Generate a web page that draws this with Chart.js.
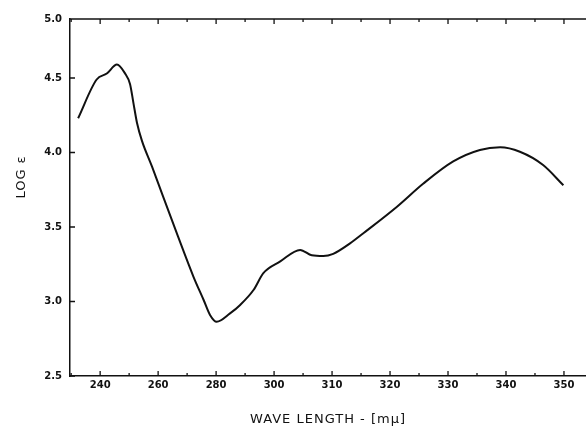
<!DOCTYPE html>
<html>
<head>
<meta charset="utf-8">
<script src="https://cdn.jsdelivr.net/npm/chart.js@4/dist/chart.umd.min.js"></script>
<style>
  html, body { margin: 0; padding: 0; background: #fff; }
  #wrap { width: 586px; height: 427px; }
</style>
</head>
<body>
<div id="wrap"><canvas id="myChart" width="586" height="427"></canvas></div>
<script>
// wavelength (m\u03bc, as printed on the axis) and log epsilon
const wavelengths = [232.4, 238.8, 242.3, 245.8, 248.6, 250.3, 251.5, 252.7, 254.4, 257.9, 261.6,
    266.4, 272.2, 275.7, 277.9, 280.2, 284.8, 288.3, 292.9, 296.3, 301, 304.5, 306.5, 308.5, 310.2,
    313.1, 315.4, 321.2, 325.7, 330.9, 335.5, 339, 342.4, 346.4, 349.9];
const logE = [4.23, 4.49, 4.53, 4.59, 4.53, 4.46, 4.33, 4.2, 4.08, 3.905, 3.71,
    3.46, 3.166, 3.01, 2.91, 2.864, 2.92, 2.977, 3.077, 3.19, 3.267, 3.346, 3.31, 3.305, 3.32,
    3.39, 3.458, 3.636, 3.79, 3.94, 4.017, 4.035, 4.005, 3.916, 3.78];

// the printed x axis is compressed below 300 (20 m\u03bc per division) and 10 m\u03bc per division above
const x_tick_labels = ['240', '260', '280', '300', '310', '320', '330', '340', '350'];
const y_tick_labels = ['2.5', '3.0', '3.5', '4.0', '4.5', '5.0'];
const y_tick_values = [2.5, 3.0, 3.5, 4.0, 4.5];

const X_MIN = 264.8, X_MAX = 353.8;
const Y_MIN = 2.5, Y_MAX = 4.896;

function to_axis(wl) {
    return wl <= 300 ? 300 - (300 - wl) / 2 : wl;
}

const x_tick_positions = x_tick_labels.map(l => to_axis(Number(l)));
const points = wavelengths.map((wl, i) => ({ x: to_axis(wl), y: logE[i] }));

// inward tick marks, frame top line and the two axis titles
const frame_plugin = {
    id: 'frame',
    afterDraw(chart) {
        const ctx = chart.ctx;
        const area = chart.chartArea;
        const xs = chart.scales.x;
        const ys = chart.scales.y;
        ctx.save();
        ctx.strokeStyle = '#111';
        ctx.lineWidth = 1.5;
        ctx.beginPath();
        ctx.moveTo(area.left, area.top);
        ctx.lineTo(area.right, area.top);
        ctx.stroke();

        ctx.lineWidth = 1.3;
        ctx.beginPath();
        for (let p = 265; p <= X_MAX; p += 5) {
            const px = xs.getPixelForValue(p);
            const len = p % 10 === 0 ? 5 : 3;
            ctx.moveTo(px, area.bottom);
            ctx.lineTo(px, area.bottom - len);
            ctx.moveTo(px, area.top);
            ctx.lineTo(px, area.top + len);
        }
        y_tick_values.forEach(v => {
            const py = ys.getPixelForValue(v);
            ctx.moveTo(area.left, py);
            ctx.lineTo(area.left + 5, py);
        });
        ctx.stroke();

        ctx.fillStyle = '#111';
        ctx.textAlign = 'center';
        ctx.textBaseline = 'middle';
        ctx.font = '13px "DejaVu Sans"';
        ctx.letterSpacing = '1px';
        ctx.fillText('WAVE LENGTH - [m\u03bc]', (area.left + area.right) / 2, 420);
        ctx.translate(22, 177);
        ctx.rotate(-Math.PI / 2);
        ctx.fillText('LOG \u03b5', 0, 0);
        ctx.restore();
    }
};

const ctx = document.getElementById('myChart').getContext('2d');
new Chart(ctx, {
    type: 'scatter',
    data: {
        datasets: [{
            label: 'log \u03b5',
            data: points,
            showLine: true,
            borderColor: '#111',
            borderWidth: 2,
            pointRadius: 0,
            cubicInterpolationMode: 'monotone',
            fill: false
        }]
    },
    options: {
        animation: false,
        responsive: false,
        layout: { padding: { top: 19, right: 0, left: 0, bottom: 0 } },
        plugins: { legend: { display: false }, tooltip: { enabled: false } },
        scales: {
            x: {
                type: 'linear',
                min: X_MIN,
                max: X_MAX,
                afterFit: s => { s.height = 51; },
                afterBuildTicks: s => { s.ticks = x_tick_positions.map(v => ({ value: v })); },
                grid: { display: true, drawOnChartArea: false, drawTicks: false },
                border: { display: true, color: '#111', width: 1.5 },
                ticks: {
                    padding: 3,
                    maxRotation: 0,
                    autoSkip: false,
                    color: '#111',
                    font: { family: 'DejaVu Sans', size: 10, weight: 'bold' },
                    callback: (v, i) => x_tick_labels[i]
                }
            },
            y: {
                min: Y_MIN,
                max: Y_MAX,
                afterFit: s => { s.width = 70; },
                afterBuildTicks: s => { s.ticks = y_tick_values.concat([Y_MAX]).map(v => ({ value: v })); },
                grid: { display: true, drawOnChartArea: false, drawTicks: false },
                border: { display: true, color: '#111', width: 1.5 },
                ticks: {
                    padding: 8,
                    autoSkip: false,
                    color: '#111',
                    font: { family: 'DejaVu Sans', size: 10, weight: 'bold' },
                    callback: (v, i) => y_tick_labels[i]
                }
            }
        }
    },
    plugins: [frame_plugin]
});
</script>
</body>
</html>
